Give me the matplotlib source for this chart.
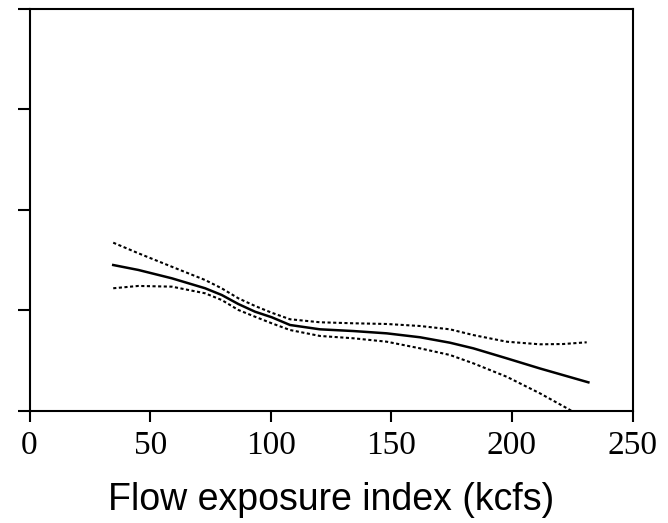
import matplotlib
matplotlib.use("Agg")
import matplotlib.pyplot as plt

# fitted curve and confidence band
fit_x = [34.7, 45.1, 59.0, 72.8, 79.7, 86.6, 93.5, 100.4, 108.0, 120.4, 134.2, 148.1,
         161.9, 174.3, 184.0, 197.8, 211.6, 231.7]
fit_y = [1.451, 1.402, 1.319, 1.220, 1.153, 1.063, 0.987, 0.932, 0.855, 0.812, 0.795, 0.772,
         0.733, 0.679, 0.623, 0.524, 0.423, 0.285]

upper_x = [34.7, 45.1, 59.0, 72.8, 79.7, 86.6, 93.5, 100.4, 108.0, 120.4, 134.2, 148.1,
           161.9, 174.3, 184.0, 197.8, 211.6, 221.3, 231.0]
upper_y = [1.673, 1.568, 1.434, 1.302, 1.219, 1.120, 1.044, 0.977, 0.912, 0.882, 0.872, 0.865,
           0.845, 0.812, 0.755, 0.689, 0.663, 0.666, 0.683]

lower_x = [34.7, 45.1, 59.0, 72.8, 79.7, 86.6, 93.5, 100.4, 108.0, 120.4, 134.2, 148.1,
           161.9, 174.3, 184.0, 197.8, 211.6, 223.4, 231.0]
lower_y = [1.220, 1.243, 1.236, 1.170, 1.103, 1.004, 0.937, 0.872, 0.805, 0.746, 0.723, 0.689,
           0.623, 0.557, 0.474, 0.341, 0.176, 0.020, -0.09]

xticks = [0, 50, 100, 150, 200, 250]
yticks = [0, 1, 2, 3, 4]

fig = plt.figure(figsize=(6.68, 5.23), dpi=100)
ax = fig.add_axes([0.0442, 0.2141, 0.9027, 0.7696])

ax.plot(fit_x, fit_y, color="black", lw=1.8, solid_joinstyle="round")
ax.plot(upper_x, upper_y, color="black", lw=1.5, dashes=(1.5, 1.2))
ax.plot(lower_x, lower_y, color="black", lw=1.5, dashes=(1.5, 1.2))

ax.set_xlim(0, 250)
ax.set_ylim(0, 4)
ax.set_xticks(xticks)
ax.set_yticks(yticks)
ax.set_yticklabels([])
ax.set_xticklabels([str(t) for t in xticks], family="Liberation Serif", fontsize=24)
ax.tick_params(axis="x", direction="out", length=8, width=1.5, pad=6)
ax.tick_params(axis="y", direction="out", length=8.6, width=1.5)
for s in ax.spines.values():
    s.set_linewidth(1.5)
    s.set_color("black")

ax.set_xlabel("Flow exposure index (kcfs)", family="Liberation Sans", fontsize=27, labelpad=15)

fig.savefig("out.png", dpi=100)
